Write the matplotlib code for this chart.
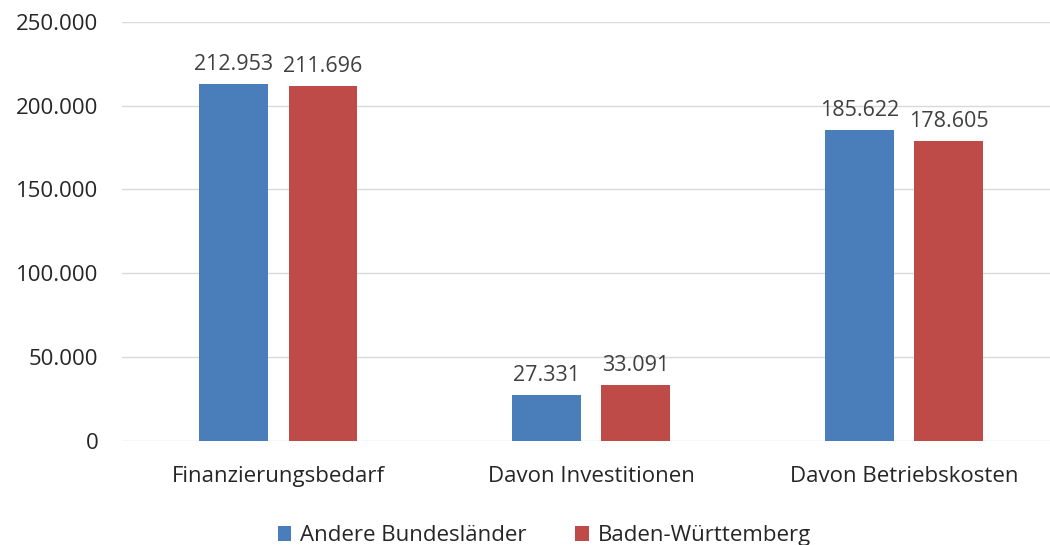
import matplotlib.pyplot as plt
import numpy as np

# Data
categories = ['Finanzierungsbedarf', 'Davon Investitionen', 'Davon Betriebskosten']
andere = [212953, 27331, 185622]
bawue = [211696, 33091, 178605]
series_names = ['Andere Bundesländer', 'Baden-Württemberg']

plt.rcParams['font.family'] = ['Open Sans', 'DejaVu Sans']

def fmt(v):
    return f'{int(v):,}'.replace(',', '.')

fig = plt.figure(figsize=(10.5, 5.45), dpi=100)
ax = fig.add_axes([0.116, 0.191, 0.894, 0.769])

x = np.arange(len(categories))
w = 0.22
off = 0.143
b1 = ax.bar(x - off, andere, w, color='#4a7ebb', label=series_names[0], zorder=3)
b2 = ax.bar(x + off, bawue, w, color='#be4b48', label=series_names[1], zorder=3)

for bars, vals in ((b1, andere), (b2, bawue)):
    for rect, v in zip(bars, vals):
        ax.text(rect.get_x() + rect.get_width() / 2, v + 5500, fmt(v),
                ha='center', va='bottom', fontsize=15.5, color='#404040')

ax.set_xlim(-0.5, 2.5)
ax.set_ylim(0, 250000)
ax.set_yticks(range(0, 250001, 50000))
ax.set_yticklabels([fmt(t) for t in range(0, 250001, 50000)], fontsize=16, color='#262626')
ax.set_xticks(x)
ax.set_xticklabels(categories, fontsize=16, color='#262626')
ax.tick_params(length=0)
ax.tick_params(axis='x', pad=18)
ax.tick_params(axis='y', pad=17)
ax.grid(axis='y', color='#d9d9d9', linewidth=1, zorder=0)
for s in ax.spines.values():
    s.set_visible(False)

ax.legend(loc='upper center', bbox_to_anchor=(0.45, -0.175), ncol=2, frameon=False,
          fontsize=16, handlelength=0.6, handleheight=0.6, columnspacing=2.2,
          handletextpad=0.4, labelcolor='#262626', borderpad=0)

fig.savefig('out.png', dpi=100)
